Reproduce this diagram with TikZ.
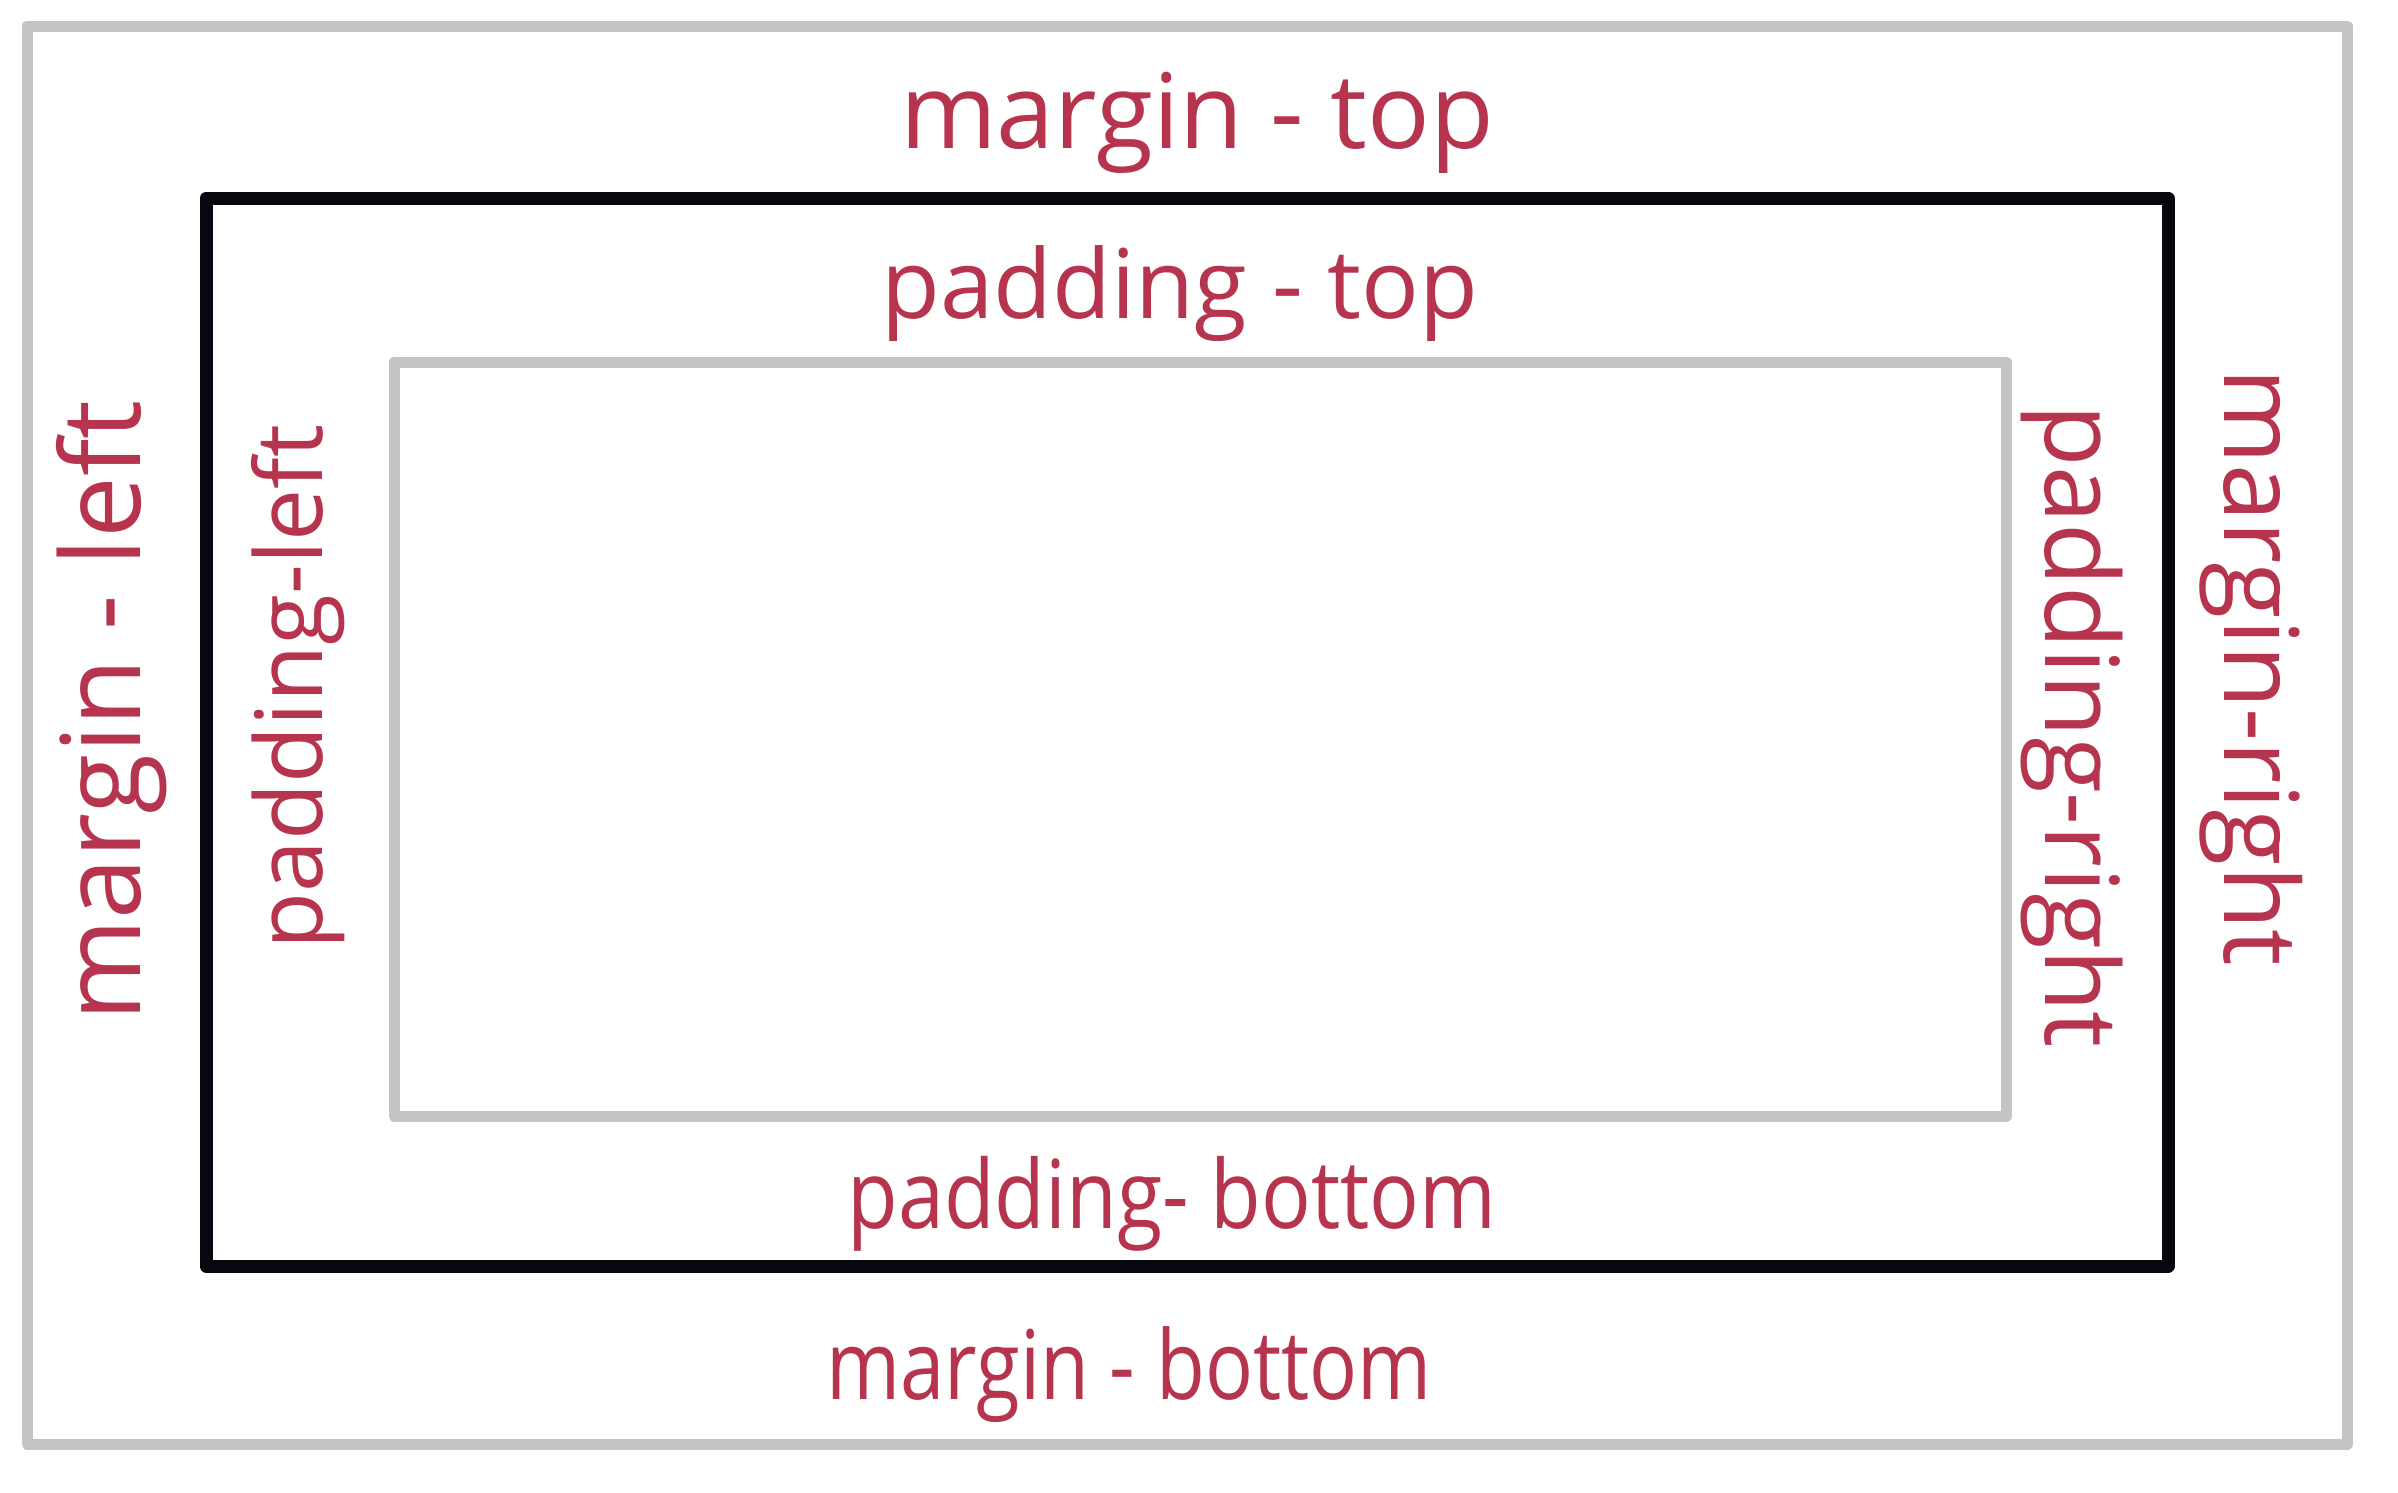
\documentclass[tikz,border=0pt]{standalone}
\usepackage{fontspec}
\setmainfont{Open Sans}
\definecolor{ink}{RGB}{182,52,78}
\definecolor{lightgray}{RGB}{196,196,196}
\definecolor{boxblack}{RGB}{6,8,14}
\tikzset{
  grayframe/.style={draw=lightgray, line width=11pt, line join=round},
  blackframe/.style={draw=boxblack, line width=13pt, line join=round},
  lbl/.style={text=ink, inner sep=0pt},
  sz/.style={font=\fontsize{#1}{#1}\selectfont}
}
\begin{document}
\begin{tikzpicture}[x=1pt,y=-1pt]
\useasboundingbox (0,0) rectangle (2398,1492);
\fill[white] (0,0) rectangle (2398,1492);
\draw[grayframe] (27,26) rectangle (2347,1444);
\draw[blackframe] (206,198) rectangle (2168,1266);
\draw[grayframe] (394,362) rectangle (2006,1116);
\node[lbl, sz=104, anchor=base] (mt) at (1197,148) {margin - top};
\node[lbl, sz=96, anchor=base] (pt) at (1180,318) {padding - top};
\node[lbl, sz=95, anchor=base] (pb) at (1172,1228) {\scalebox{0.87}[1]{padding- bottom}};
\node[lbl, sz=96, anchor=base] (mb) at (1129,1399) {\scalebox{0.83}[1]{margin - bottom}};
\node[lbl, sz=110, rotate=90] (ml) at (112,711) {margin - left};
\node[lbl, sz=93, rotate=90] (pl) at (298,687) {padding-left};
\node[lbl, sz=103, rotate=-90] (mr) at (2251,667) {margin-right};
\node[lbl, sz=102, rotate=-90] (pr) at (2072,726) {padding-right};
\end{tikzpicture}
\end{document}
